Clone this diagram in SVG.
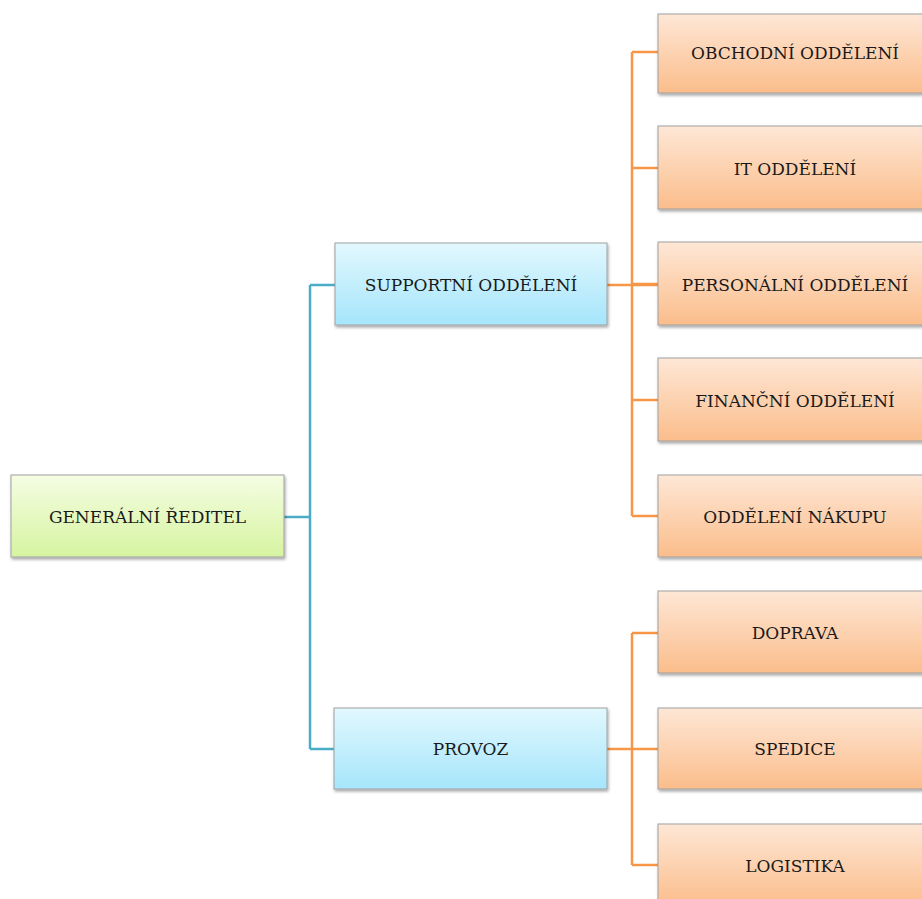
<svg xmlns="http://www.w3.org/2000/svg" width="922" height="899" viewBox="0 0 922 899">
<defs>
<linearGradient id="gG" x1="0" y1="0" x2="0" y2="1"><stop offset="0" stop-color="#f5fde3"/><stop offset="1" stop-color="#d6f4a0"/></linearGradient>
<linearGradient id="gB" x1="0" y1="0" x2="0" y2="1"><stop offset="0" stop-color="#e2f8fe"/><stop offset="1" stop-color="#a5e5fb"/></linearGradient>
<linearGradient id="gO" x1="0" y1="0" x2="0" y2="1"><stop offset="0" stop-color="#fee7d6"/><stop offset="1" stop-color="#fbbd8b"/></linearGradient>
<filter id="sh" x="-5%" y="-10%" width="110%" height="125%"><feDropShadow dx="1" dy="2" stdDeviation="1.5" flood-color="#000" flood-opacity="0.35"/></filter>
</defs>
<style>
.box{stroke:#a0a0a0;stroke-width:1;filter:url(#sh)}
.g{fill:url(#gG)}.b{fill:url(#gB)}.o{fill:url(#gO)}
text{font-family:"DejaVu Serif","Liberation Serif",serif;font-size:17px;fill:#1a1a1a;text-anchor:middle;dominant-baseline:central}
.cb{fill:none;stroke:#4bacc6;stroke-width:2.5}
.co{fill:none;stroke:#f79646;stroke-width:2.5}
</style>
<rect width="922" height="899" fill="#fff"/>
<g id="connectors">
<path class="cb" d="M284 517H310M310 285V749M310 285H335M310 749H335"/>
<path class="co" d="M607 285H658M632 52V516M632 52H658M632 168H658M632 284H658M632 400H658M632 516H658"/>
<path class="co" d="M607 749H658M632 633V865M632 633H658M632 865H658"/>
</g>
<g id="n-gr"><rect class="box g" x="11" y="475" width="273" height="82"/><text x="147.5" y="517">GENERÁLNÍ ŘEDITEL</text></g>
<g id="n-sup"><rect class="box b" x="335" y="243" width="272" height="82"/><text x="471" y="285">SUPPORTNÍ ODDĚLENÍ</text></g>
<g id="n-prov"><rect class="box b" x="334" y="708" width="273" height="81"/><text x="470.5" y="749">PROVOZ</text></g>
<g id="n-obch"><rect class="box o" x="658" y="14" width="274" height="79"/><text x="795" y="53">OBCHODNÍ ODDĚLENÍ</text></g>
<g id="n-it"><rect class="box o" x="658" y="126" width="274" height="83"/><text x="795" y="169">IT ODDĚLENÍ</text></g>
<g id="n-pers"><rect class="box o" x="658" y="242" width="274" height="83"/><text x="795" y="285">PERSONÁLNÍ ODDĚLENÍ</text></g>
<g id="n-fin"><rect class="box o" x="658" y="358" width="274" height="83"/><text x="795" y="401">FINANČNÍ ODDĚLENÍ</text></g>
<g id="n-nak"><rect class="box o" x="658" y="475" width="274" height="82"/><text x="795" y="517">ODDĚLENÍ NÁKUPU</text></g>
<g id="n-dop"><rect class="box o" x="658" y="591" width="274" height="82"/><text x="795" y="633">DOPRAVA</text></g>
<g id="n-sped"><rect class="box o" x="658" y="708" width="274" height="81"/><text x="795" y="749">SPEDICE</text></g>
<g id="n-log"><rect class="box o" x="658" y="824" width="274" height="82"/><text x="795" y="866">LOGISTIKA</text></g>
</svg>
